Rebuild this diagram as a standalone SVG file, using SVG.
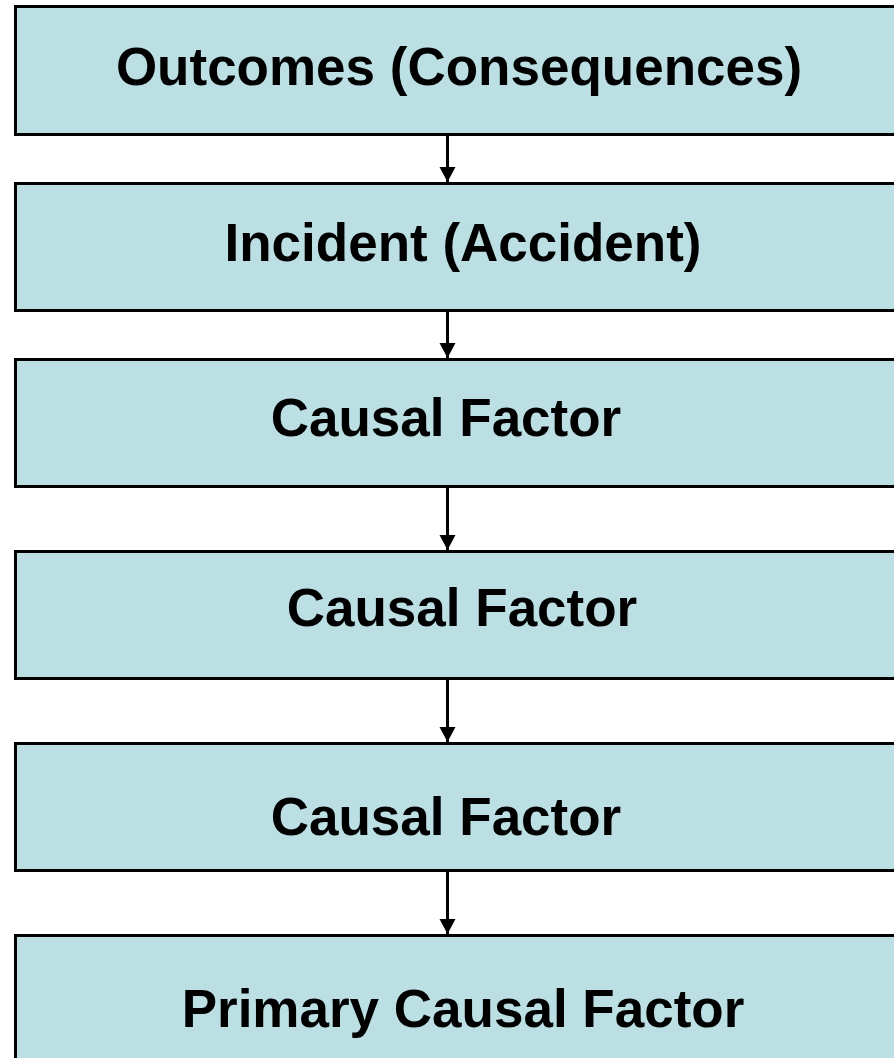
<svg xmlns="http://www.w3.org/2000/svg" width="894" height="1058" viewBox="0 0 894 1058">
<style>
.box{fill:#BBDFE3;stroke:#000;stroke-width:3}
.lbl{font-family:"Liberation Sans",Arial,sans-serif;font-weight:bold;font-size:53px;fill:#000;text-anchor:middle}
.conn{stroke:#000;stroke-width:3;fill:none}
</style>
<defs>
<marker id="ah" markerUnits="userSpaceOnUse" markerWidth="18" markerHeight="18" refX="15" refY="8" orient="auto">
<path d="M0,0 L15,8 L0,16 Z" fill="#000"/>
</marker>
</defs>
<g id="n1"><rect class="box" x="15.5" y="6.5" width="900" height="128"/><text class="lbl" x="459" y="85">Outcomes (Consequences)</text></g>
<g id="n2"><rect class="box" x="15.5" y="183.5" width="900" height="127"/><text class="lbl" x="463" y="261">Incident (Accident)</text></g>
<g id="n3"><rect class="box" x="15.5" y="359.5" width="900" height="127"/><text class="lbl" x="446" y="436">Causal Factor</text></g>
<g id="n4"><rect class="box" x="15.5" y="551.5" width="900" height="127"/><text class="lbl" x="462" y="626">Causal Factor</text></g>
<g id="n5"><rect class="box" x="15.5" y="743.5" width="900" height="127"/><text class="lbl" x="446" y="835">Causal Factor</text></g>
<g id="n6"><rect class="box" x="15.5" y="935.5" width="900" height="200"/><text class="lbl" x="463" y="1027">Primary Causal Factor</text></g>
<g id="connectors">
<line class="conn" x1="447.5" y1="136" x2="447.5" y2="182" marker-end="url(#ah)"/>
<line class="conn" x1="447.5" y1="312" x2="447.5" y2="358" marker-end="url(#ah)"/>
<line class="conn" x1="447.5" y1="488" x2="447.5" y2="550" marker-end="url(#ah)"/>
<line class="conn" x1="447.5" y1="680" x2="447.5" y2="742" marker-end="url(#ah)"/>
<line class="conn" x1="447.5" y1="872" x2="447.5" y2="934" marker-end="url(#ah)"/>
</g>
</svg>
